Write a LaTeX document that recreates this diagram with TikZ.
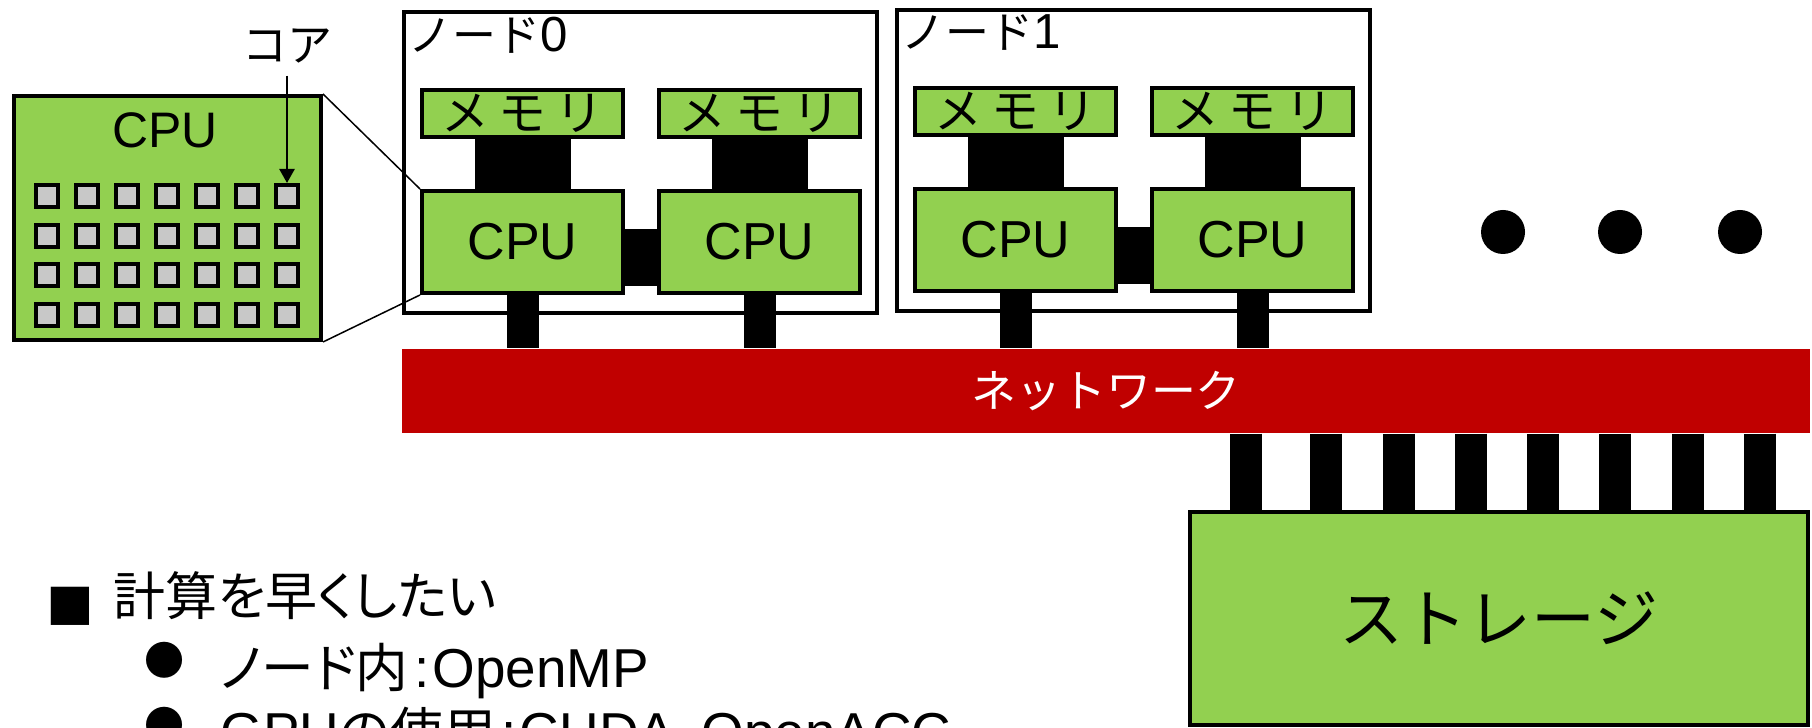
\documentclass[tikz,border=0pt]{standalone}
\usepackage{fontspec}
\setmainfont{Liberation Sans}
\newfontfamily\jp{Noto Sans CJK JP}
\newfontfamily\jpp[RawFeature=+palt]{Noto Sans CJK JP}
\usetikzlibrary{arrows.meta,calc}
\definecolor{boxgreen}{HTML}{92D050}
\definecolor{netred}{HTML}{C00000}
\definecolor{coregray}{HTML}{C8C8C8}
\begin{document}
\begin{tikzpicture}[x=0.1mm,y=-0.1mm,line join=miter,>={Triangle[width=1.5mm,length=1.4mm]}]
	\tikzset{box/.style={draw,line width=0.4mm,fill=boxgreen,inner sep=0pt},
		cpubox/.style={box,minimum width=20.1mm,minimum height=10.2mm,font=\fontsize{14.8}{16}\selectfont},
		membox/.style={box,minimum width=20.1mm,minimum height=4.7mm,font={\jp\fontsize{13.6}{15}\selectfont\addfontfeatures{LetterSpace=20}}},
		nodebox/.style={draw,line width=0.4mm,minimum width=47.3mm,minimum height=30.1mm,inner sep=0pt},
		core/.style={draw,line width=0.4mm,fill=coregray,minimum size=2.2mm,inner sep=0pt},
		bus/.style={line width=3.2mm},
		wbus/.style={line width=9.6mm},
		hbus/.style={line width=5.7mm},
		dot/.style={circle,fill,minimum size=4.4mm,inner sep=0pt}}
	\useasboundingbox (0,0) rectangle (1812,728);
	% CPU (拡大)
	\node[box,minimum width=30.7mm,minimum height=24.4mm] (bigcpu) at (167.5,218) {};
	\node[font=\fontsize{14.2}{16}\selectfont] (bigcpu-lbl) at (165,130) {CPU};
	\foreach\i in {0,...,6}{
		\foreach\j in {0,...,3}{\node[core] (c\i\j) at ({47+40*\i},{196+39.6*\j}) {};}}
	\node[font=\jp\fontsize{12.8}{14}\selectfont] (core-lbl) at (287,46) {コア};
	\draw[->,line width=0.25mm] (core-lbl) -- (c60.north);
	% ネットワーク
	\node[fill=netred,minimum width=140.8mm,minimum height=8.4mm,inner sep=0pt,text=white,
		font=\jp\fontsize{12.8}{14}\selectfont] (net) at (1106,391) {ネットワーク};
	\foreach\k/\dx/\dy in {0/0/0,1/493/-2}{
		\node[nodebox] (n\k) at ({640.5+\dx},{162.5+\dy}) {};
		\node[anchor=north west,inner sep=0.6mm,font=\fontsize{14}{16}\selectfont] (n\k-lbl) at (n\k.north west) {{\jp\fontsize{12.5}{14}\selectfont ノード}\k};
		\node[membox] (mem\k-a) at ({522.5+\dx},{113.5+\dy}) {メモリ};
		\node[membox] (mem\k-b) at ({759.5+\dx},{113.5+\dy}) {メモリ};
		\node[cpubox] (cpu\k-a) at ({522.5+\dx},{242+\dy}) {CPU};
		\node[cpubox] (cpu\k-b) at ({759.5+\dx},{242+\dy}) {CPU};
		\draw[wbus] (mem\k-a) -- (cpu\k-a);
		\draw[wbus] (mem\k-b) -- (cpu\k-b);
		\draw[hbus] ($(cpu\k-a.east)+(0,16)$) -- ($(cpu\k-b.west)+(0,16)$);
		\draw[bus] (cpu\k-a.south) -- (cpu\k-a.south |- net.north);
		\draw[bus] (cpu\k-b.south) -- (cpu\k-b.south |- net.north);
	}
	\draw[line width=0.15mm] (bigcpu.north east) -- (cpu0-a.north west);
	\draw[line width=0.15mm] (bigcpu.south east) -- (cpu0-a.south west);
	\foreach\x[count=\d] in {1503,1620,1740}{\node[dot] (dot\d) at (\x,232) {};}
	% ストレージ
	\node[box,minimum width=61.8mm,minimum height=21.3mm,font=\jp\fontsize{18.2}{20}\selectfont] (stor) at (1499,618.5) {ストレージ};
	\foreach\x in {1246,1326,1399,1471,1543,1615,1688,1760}{
		\draw[bus] (\x,0 |- net.south) -- (\x,0 |- stor.north);}
	% 箇条書き
	\node[font=\jp\fontsize{13.6}{14}\selectfont] (b1) at (70,606) {■};
	\node[anchor=base west,inner sep=0pt,font=\jpp\fontsize{14.8}{18}\selectfont] (l1) at (113,616) {計算を早くしたい};
	\foreach\n/\y/\t in {2/660/{{\jpp\fontsize{15}{18}\selectfont ノード内}\kern0.6mm:\kern0.3mm OpenMP},3/725/{GPU{\jpp\fontsize{15}{18}\selectfont の使用}\kern0.6mm:\kern0.3mm CUDA{\jpp\fontsize{15}{18}\selectfont 、}OpenACC}}{
		\node[font=\jp\fontsize{11.4}{14}\selectfont] (b\n) at (165,\y) {●};
		\node[anchor=base west,inner sep=0pt,font=\fontsize{15.6}{20}\selectfont] (l\n) at (220,\y+27) {\t};}
\end{tikzpicture}
\end{document}
